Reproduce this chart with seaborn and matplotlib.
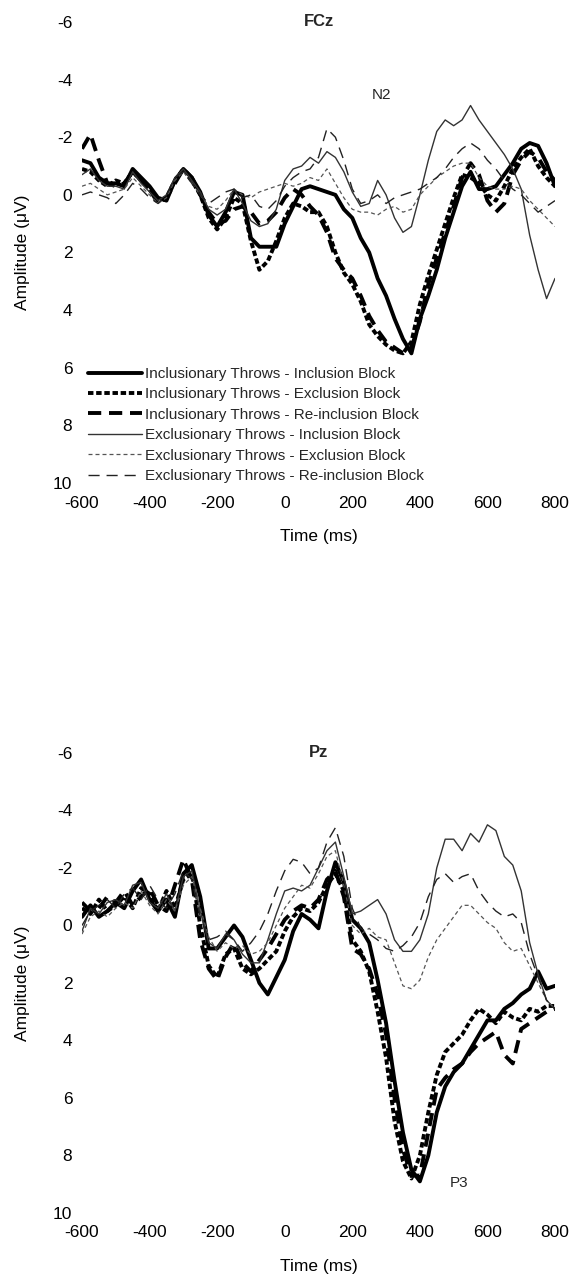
import pandas as pd
import seaborn as sns
import matplotlib.pyplot as plt

###### ERP waveforms at FCz and Pz ######

times = list(range(-600, 801, 25))

conditions = [
    "Inclusionary Throws - Inclusion Block",
    "Inclusionary Throws - Exclusion Block",
    "Inclusionary Throws - Re-inclusion Block",
    "Exclusionary Throws - Inclusion Block",
    "Exclusionary Throws - Exclusion Block",
    "Exclusionary Throws - Re-inclusion Block",
]

# FCz (uV), one value per 25 ms
fcz_incl_incl = [-1.2, -1.1, -0.6, -0.4, -0.4, -0.3, -0.9, -0.6, -0.3, 0.1,
                 0.2, -0.5, -0.9, -0.6, -0.1, 0.7, 1.1, 0.6, -0.1, 0.0,
                 1.5, 1.8, 1.8, 1.8, 1.0, 0.4, -0.2, -0.3, -0.2, -0.1,
                 0.0, 0.5, 0.8, 1.5, 2.0, 2.9, 3.5, 4.3, 5.0, 5.5,
                 4.3, 3.5, 2.6, 1.5, 0.6, -0.3, -0.8, -0.2, -0.2, -0.3,
                 -0.7, -1.1, -1.6, -1.8, -1.7, -1.1, -0.3]
fcz_incl_excl = [-0.9, -0.8, -0.5, -0.3, -0.5, -0.4, -0.8, -0.5, -0.2, 0.2,
                 0.1, -0.5, -0.9, -0.5, 0.0, 0.8, 1.2, 0.8, 0.1, 0.3,
                 1.6, 2.6, 2.3, 1.6, 0.8, 0.3, 0.4, 0.6, 0.6, 1.1,
                 2.0, 2.7, 3.1, 3.7, 4.5, 4.9, 5.2, 5.4, 5.5, 5.1,
                 3.8, 2.8, 1.9, 1.0, 0.1, -0.7, -0.6, -0.4, 0.0, 0.2,
                 -0.3, -0.9, -1.3, -1.6, -1.0, -0.6, -0.3]
fcz_incl_reincl = [-1.6, -2.1, -1.2, -0.4, -0.3, -0.4, -0.8, -0.5, -0.2, 0.3,
                   0.1, -0.4, -0.9, -0.6, 0.0, 0.6, 1.0, 0.9, 0.5, 0.4,
                   0.6, 1.0, 0.9, 0.6, 0.1, -0.2, 0.0, 0.4, 0.7, 1.3,
                   2.2, 2.6, 2.9, 3.5, 4.2, 4.7, 5.1, 5.3, 5.5, 5.3,
                   4.4, 3.1, 2.2, 1.3, 0.4, -0.6, -1.1, -0.7, 0.2, 0.6,
                   0.3, -0.7, -1.2, -1.5, -1.3, -0.8, -0.5]
fcz_excl_incl = [-0.7, -0.9, -0.5, -0.3, -0.3, -0.2, -0.8, -0.4, -0.1, 0.2,
                 0.0, -0.6, -0.9, -0.5, -0.1, 0.5, 0.7, 0.5, -0.2, 0.3,
                 0.9, 1.1, 1.0, 0.5, -0.5, -0.9, -1.0, -1.3, -1.1, -1.5,
                 -1.3, -0.8, -0.1, 0.4, 0.3, -0.5, 0.0, 0.8, 1.3, 1.1,
                 0.0, -1.2, -2.2, -2.6, -2.4, -2.6, -3.1, -2.6, -2.2, -1.8,
                 -1.4, -0.9, -0.2, 1.4, 2.6, 3.6, 2.9]
fcz_excl_excl = [-0.3, -0.4, -0.2, 0.0, -0.1, -0.2, -0.6, -0.3, 0.0, 0.3,
                 0.1, -0.5, -0.8, -0.4, 0.0, 0.4, 0.5, 0.2, -0.2, 0.0,
                 0.1, -0.1, -0.2, -0.3, -0.4, -0.3, -0.4, -0.6, -0.5, -0.9,
                 -0.4, 0.1, 0.5, 0.6, 0.6, 0.7, 0.5, 0.4, 0.6, 0.5,
                 0.0, -0.3, -0.6, -0.8, -1.0, -1.1, -1.1, -0.6, -0.3, -0.2,
                 -0.2, -0.3, -0.2, 0.2, 0.5, 0.8, 1.1]
fcz_excl_reincl = [0.0, -0.1, 0.0, 0.1, 0.3, 0.0, -0.4, -0.2, 0.1, 0.3,
                   0.0, -0.6, -0.8, -0.4, 0.0, 0.3, 0.1, -0.1, -0.2, 0.1,
                   0.0, 0.4, 0.5, 0.2, -0.3, -0.6, -0.8, -0.9, -1.3, -2.3,
                   -2.0, -1.2, -0.2, 0.3, 0.2, 0.0, 0.3, 0.1, 0.0, -0.1,
                   -0.2, -0.4, -0.6, -0.9, -1.3, -1.6, -1.8, -1.6, -1.2, -0.9,
                   -0.5, -0.2, 0.0, 0.3, 0.6, 0.4, 0.2]

# Pz (uV)
pz_incl_incl = [-0.3, -0.7, -0.3, -0.5, -0.8, -0.6, -1.2, -1.6, -0.9, -0.5,
                -0.9, -0.3, -1.8, -2.1, -1.0, 0.8, 0.8, 0.4, 0.0, 0.4,
                1.2, 2.0, 2.4, 1.8, 1.2, 0.2, -0.4, -0.2, 0.1, -1.2,
                -2.2, -1.5, -0.2, 0.1, 0.6, 1.9, 3.4, 5.4, 7.2, 8.5,
                8.9, 8.0, 6.5, 5.6, 5.1, 4.8, 4.3, 3.8, 3.3, 3.3,
                2.9, 2.7, 2.4, 2.2, 1.6, 2.2, 2.1]
pz_incl_excl = [-0.6, -0.4, -0.9, -0.5, -0.7, -1.0, -0.6, -1.3, -1.1, -0.5,
                -1.2, -0.6, -1.6, -1.8, 0.0, 1.4, 1.8, 1.0, 0.8, 1.5,
                1.7, 1.5, 1.2, 0.9, 0.2, -0.3, -0.6, -0.5, -0.8, -1.4,
                -1.8, -1.2, 0.5, 0.9, 1.6, 3.0, 4.6, 6.8, 8.2, 8.8,
                8.0, 6.5, 5.2, 4.4, 4.1, 3.8, 3.3, 2.9, 3.1, 3.4,
                3.0, 3.2, 3.3, 2.9, 3.0, 2.8, 2.8]
pz_incl_reincl = [-0.8, -0.5, -0.6, -1.0, -0.8, -1.2, -0.7, -1.0, -1.3, -0.7,
                  -0.5, -1.4, -2.3, -1.6, 0.5, 1.5, 1.9, 1.1, 0.6, 1.3,
                  1.6, 1.2, 0.8, 0.3, -0.2, -0.5, -0.7, -0.6, -0.9, -1.6,
                  -1.9, -1.0, 0.8, 1.0, 1.5, 2.4, 3.8, 6.0, 7.8, 8.7,
                  8.7, 7.2, 5.7, 5.3, 5.0, 4.8, 4.4, 4.1, 3.9, 3.7,
                  4.5, 4.8, 3.6, 3.4, 3.2, 3.0, 2.9]
pz_excl_incl = [0.2, -0.6, -0.4, -0.8, -0.9, -0.7, -1.4, -1.5, -0.8, -0.6,
                -1.1, -0.5, -1.7, -1.9, -0.5, 0.6, 0.8, 0.3, 0.5, 1.0,
                1.3, 1.3, 0.5, -0.4, -1.2, -1.3, -1.2, -1.4, -2.0, -2.6,
                -2.9, -1.7, -0.4, -0.5, -0.7, -0.9, -0.4, 0.5, 0.9, 0.9,
                0.5, -0.4, -2.0, -3.0, -3.0, -2.6, -3.2, -2.9, -3.5, -3.3,
                -2.4, -2.1, -1.2, 0.6, 1.7, 2.6, 2.9]
pz_excl_excl = [0.3, -0.3, -0.5, -0.3, -0.6, -0.8, -0.6, -1.2, -0.7, -0.4,
                -0.9, -0.5, -1.4, -1.7, -0.6, 0.4, 0.9, 0.6, 0.8, 0.7,
                1.0, 0.9, 0.6, 0.0, -0.6, -1.0, -1.4, -1.3, -1.8, -2.4,
                -2.6, -1.4, 0.0, 0.3, 0.1, 0.4, 0.5, 1.3, 2.1, 2.2,
                1.9, 1.1, 0.5, 0.1, -0.3, -0.7, -0.7, -0.4, -0.1, 0.1,
                0.6, 0.9, 0.8, 1.4, 2.0, 2.6, 2.9]
pz_excl_reincl = [0.0, -0.5, -0.7, -0.9, -0.6, -1.1, -1.3, -0.9, -1.4, -0.9,
                  -0.6, -1.1, -1.9, -1.6, -0.3, 0.5, 0.4, 0.2, 0.5, 0.9,
                  0.6, 0.2, -0.4, -1.2, -1.9, -2.3, -2.2, -1.8, -2.0, -2.9,
                  -3.4, -2.4, -0.6, 0.1, 0.3, 0.5, 0.8, 0.9, 0.7, 0.4,
                  -0.1, -1.0, -1.6, -1.8, -1.5, -1.7, -1.8, -1.2, -0.8, -0.5,
                  -0.3, -0.4, -0.1, 1.0, 1.8, 2.6, 2.9]

fcz = [fcz_incl_incl, fcz_incl_excl, fcz_incl_reincl,
       fcz_excl_incl, fcz_excl_excl, fcz_excl_reincl]
pz = [pz_incl_incl, pz_incl_excl, pz_incl_reincl,
      pz_excl_incl, pz_excl_excl, pz_excl_reincl]


def to_long(series):
    rows = []
    for cond, vals in zip(conditions, series):
        for t, v in zip(times, vals):
            rows.append((t, v, cond))
    return pd.DataFrame(rows, columns=["Time", "Amplitude", "Condition"])


palette = dict(zip(conditions, ["black", "black", "black", "#333333", "#555555", "#222222"]))
dashes = dict(zip(conditions, ["", (1.4, 0.7), (3.4, 2.0), "", (3.2, 2.4), (8, 5)]))
sizes = dict(zip(conditions, [2.8, 2.8, 2.8, 1.0, 0.9, 1.0]))

sns.set_theme(style="white")
plt.rcParams['font.family'] = ['Liberation Sans', 'DejaVu Sans']
plt.rcParams['axes.unicode_minus'] = False

fig = plt.figure(figsize=(5.71, 12.84), dpi=100)
ax1 = fig.add_axes([0.1436, 0.6238, 0.8284, 0.3591])
ax2 = fig.add_axes([0.1436, 0.0553, 0.8284, 0.3583])

for ax, series, name in [(ax1, fcz, "FCz"), (ax2, pz, "Pz")]:
    df = to_long(series)
    sns.lineplot(data=df, x="Time", y="Amplitude", hue="Condition",
                 style="Condition", size="Condition", hue_order=conditions,
                 palette=palette, dashes=dashes, sizes=sizes,
                 legend=False, ax=ax)
    ax.set_xlim(-600, 800)
    ax.set_ylim(10, -6)
    ax.set_xticks(range(-600, 801, 200))
    ax.set_yticks(range(-6, 11, 2))
    for s in ax.spines.values():
        s.set_visible(False)
    ax.tick_params(axis='both', direction='in', length=2, width=1,
                   color='#aaaaaa', labelsize=12.5, labelcolor='black')
    ax.tick_params(axis='x', pad=9)
    ax.tick_params(axis='y', pad=7)
    ax.set_xlabel("Time (ms)", fontsize=12.5, color='black')
    ax.set_ylabel("Amplitude (μV)", fontsize=12.5, color='black')
    ax.xaxis.set_label_coords(0.5, -0.1)
    ax.yaxis.set_label_coords(-0.11, 0.5)
    ax.text(0.5, 1.0, name, transform=ax.transAxes, ha='center', va='center',
            fontsize=12, weight='bold')

ax1.text(285, -3.45, "N2", fontsize=11, ha='center', va='center')
ax2.text(515, 8.95, "P3", fontsize=11, ha='center', va='center')

leg = ax1.legend(ax1.get_lines()[:6], conditions, loc='upper left',
                 bbox_to_anchor=(0.013, 0.252), frameon=False, fontsize=11,
                 handlelength=3.5, handletextpad=0.2, labelspacing=0.42,
                 borderpad=0, borderaxespad=0)

plt.savefig("out.png", dpi=100)
plt.close()
